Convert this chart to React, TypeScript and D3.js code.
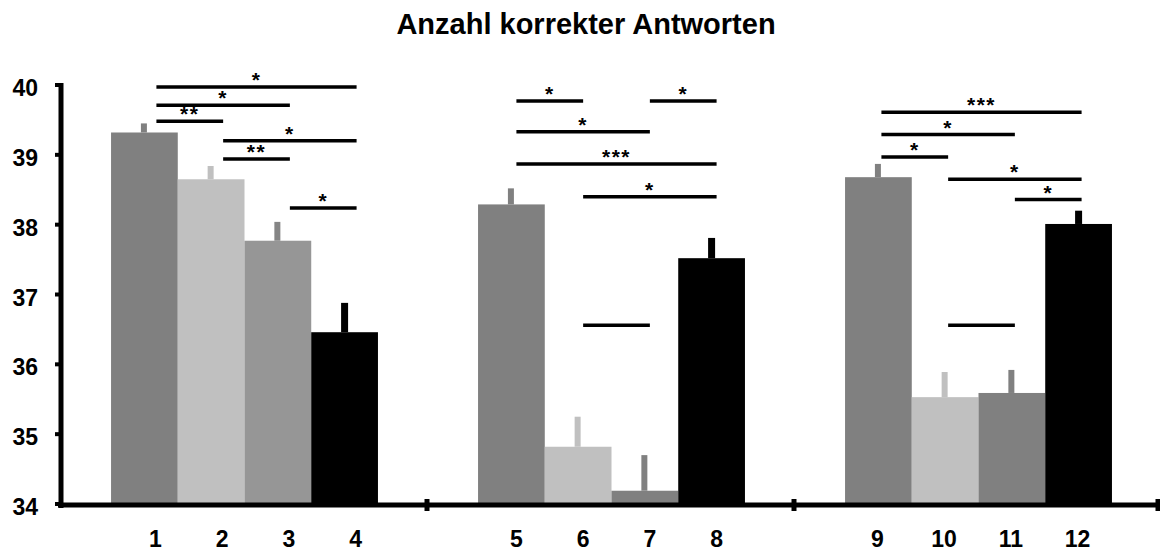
import React from "react";
import * as d3 from "d3";

const title = "Anzahl korrekter Antworten";
const categories = ["1", "2", "3", "4", "5", "6", "7", "8", "9", "10", "11", "12"];
const groupOf = [0, 0, 0, 0, 1, 1, 1, 1, 2, 2, 2, 2];
const means = [39.32, 38.65, 37.77, 36.46, 38.29, 34.82, 34.19, 37.52, 38.68, 35.53, 35.59, 38.01];
const errors = [0.13, 0.19, 0.27, 0.42, 0.23, 0.43, 0.51, 0.29, 0.19, 0.36, 0.33, 0.19];
const barColors = ["#808080", "#c0c0c0", "#969696", "#000000", "#808080", "#c0c0c0", "#808080", "#000000", "#808080", "#c0c0c0", "#808080", "#000000"];
const errColors = ["#808080", "#c0c0c0", "#858585", "#000000", "#808080", "#c0c0c0", "#808080", "#000000", "#808080", "#c0c0c0", "#808080", "#000000"];
const yTicks = [34, 35, 36, 37, 38, 39, 40];

// significance brackets (bar indices, level in data units, label)
const sigFrom = [0, 0, 0, 1, 1, 2, 4, 6, 4, 4, 5, 5, 8, 8, 8, 9, 10, 9];
const sigTo = [3, 2, 1, 3, 2, 3, 5, 7, 6, 7, 7, 6, 11, 10, 9, 11, 11, 10];
const sigLevel = [39.97, 39.71, 39.48, 39.2, 38.94, 38.24, 39.77, 39.77, 39.33, 38.87, 38.4, 36.56, 39.61, 39.29, 38.97, 38.65, 38.36, 36.56];
const sigLabel = ["*", "*", "**", "*", "**", "*", "*", "*", "*", "***", "*", "", "***", "*", "*", "*", "*", ""];

const W = 1160;
const H = 552;
const FONT = "'Liberation Sans', Arial, Helvetica, sans-serif";
const SLOTS_PER_GROUP = 5.5;
const GROUP_OFFSET = 0.765;
const lineShift = [12, 5, 3];
const labelShift = [11, 5, -1];

export default function App() {
  const x = d3.scaleLinear().domain([0, 16.5]).range([60, 1161]);
  const y = d3.scaleLinear().domain([34, 40]).range([504, 85]);
  const bw = x(1) - x(0);
  const slot = (i: number) => groupOf[i] * SLOTS_PER_GROUP + GROUP_OFFSET + (i % 4);
  const left = (i: number) => x(slot(i));
  const center = (i: number) => x(slot(i) + 0.5);
  const separators = [5.5, 11, 16.5];

  return (
    <svg width={W} height={H} style={{ position: "absolute", left: 0, top: 0, background: "#fff" }}>
      <text x={586} y={34} textAnchor="middle" fontFamily={FONT} fontWeight="bold" fontSize={29}>
        {title}
      </text>

      {/* bars */}
      {means.map((m, i) => (
        <rect key={"b" + i} x={left(i)} y={y(m)} width={bw} height={y(34) - y(m)} fill={barColors[i]} />
      ))}
      {/* error bars */}
      {means.map((m, i) => (
        <rect
          key={"e" + i}
          x={center(i) - 3.5}
          y={y(m + errors[i])}
          width={i % 4 === 3 ? 7 : 6}
          height={y(m) - y(m + errors[i])}
          fill={errColors[i]}
        />
      ))}

      {/* significance */}
      {sigFrom.map((f, k) => {
        const g = groupOf[f];
        const x1 = center(f) + lineShift[g];
        const x2 = center(sigTo[k]) + lineShift[g];
        const yy = y(sigLevel[k]);
        return (
          <g key={"s" + k}>
            <line x1={x1} x2={x2} y1={yy} y2={yy} stroke="#000" strokeWidth={3.5} />
            {sigLabel[k] && (
              <text
                x={(x1 + x2) / 2}
                y={yy}
                textAnchor="middle"
                fontFamily={FONT}
                fontWeight="bold"
                fontSize={21}
                letterSpacing={1.5}
              >
                {sigLabel[k]}
              </text>
            )}
          </g>
        );
      })}

      {/* y axis */}
      <line x1={61} x2={61} y1={y(40) - 2} y2={y(34) + 4} stroke="#000" strokeWidth={5} />
      {yTicks.map((t) => (
        <g key={"yt" + t}>
          <line x1={55} x2={61} y1={y(t)} y2={y(t)} stroke="#000" strokeWidth={4} />
          <text x={38} y={y(t) + 3} textAnchor="end" dominantBaseline="central" fontFamily={FONT} fontWeight="bold" fontSize={23}>
            {t}
          </text>
        </g>
      ))}

      {/* x axis */}
      <line x1={58} x2={W} y1={y(34) + 1} y2={y(34) + 1} stroke="#000" strokeWidth={5} />
      {separators.map((s) => (
        <line key={"sep" + s} x1={Math.min(x(s), W - 2)} x2={Math.min(x(s), W - 2)} y1={y(34) - 5} y2={y(34) + 7} stroke="#000" strokeWidth={5} />
      ))}
      {categories.map((c, i) => (
        <text key={"xl" + i} x={center(i) + labelShift[groupOf[i]]} y={547} textAnchor="middle" fontFamily={FONT} fontWeight="bold" fontSize={23}>
          {c}
        </text>
      ))}
    </svg>
  );
}
